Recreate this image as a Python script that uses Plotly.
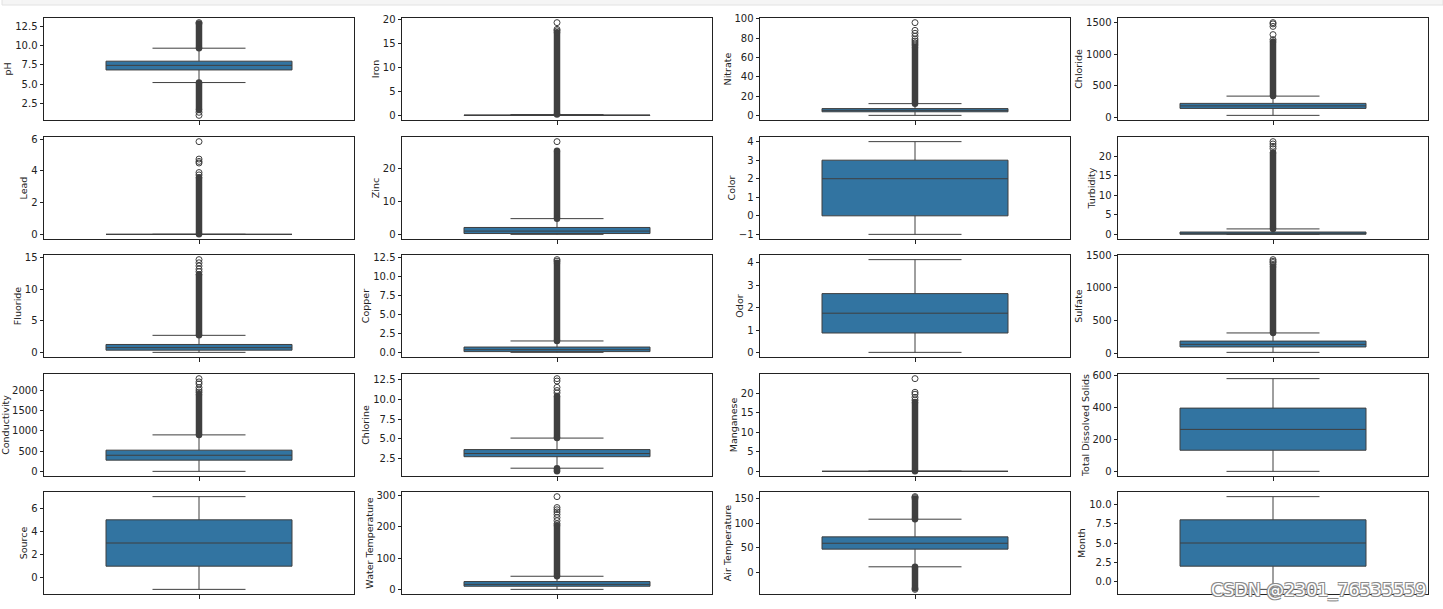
import plotly.graph_objects as go

features = ["pH", "Iron", "Nitrate", "Chloride",
            "Lead", "Zinc", "Color", "Turbidity",
            "Fluoride", "Copper", "Odor", "Sulfate",
            "Conductivity", "Chlorine", "Manganese", "Total Dissolved Solids",
            "Source", "Water Temperature", "Air Temperature", "Month"]

q1_vals = [6.85, 0.0, 4.0, 140, 0.0, 0.25, 0, 0.03, 0.35, 0.1, 0.88, 95,
           280, 2.75, 0.0, 132, 1, 10, 47, 2]
median_vals = [7.45, 0.01, 5.5, 180, 0.0, 1.0, 2, 0.2, 0.75, 0.35, 1.76, 135,
               400, 3.15, 0.0, 262, 3, 16, 59, 5]
q3_vals = [8.0, 0.07, 7.3, 220, 0.0, 2.1, 3, 0.6, 1.25, 0.7, 2.63, 185,
           525, 3.65, 0.02, 395, 5, 25, 72, 8]
whisker_low = [5.2, 0.0, 0.3, 30, 0.0, 0.0, -1, 0.0, 0.0, 0.0, 0.02, 12,
               5, 1.3, 0.0, 0, -1, 0, 11, -1]
whisker_high = [9.7, 0.17, 12.4, 335, 0.0, 4.8, 4, 1.4, 2.7, 1.5, 4.14, 310,
                900, 5.1, 0.05, 579, 7, 42, 108, 11]

# dense runs of outliers (low, high) per feature
dense_outliers = [
    [(9.7, 12.95), (1.6, 5.2)],
    [(0.17, 17.3)],
    [(12.4, 71.0)],
    [(335, 1200)],
    [(0.0, 3.6)],
    [(4.8, 25.5)],
    [],
    [(1.4, 21.0)],
    [(2.7, 12.4)],
    [(1.5, 11.8)],
    [],
    [(310, 1330)],
    [(900, 1900)],
    [(5.1, 10.4), (0.9, 1.3)],
    [(0.05, 17.8)],
    [],
    [],
    [(42, 205)],
    [(108, 150), (-33, 11)],
    [],
]
sparse_outliers = [
    [13.05, 1.3, 0.9],
    [17.6, 17.9, 19.3],
    [73, 75, 77, 79, 82, 85, 88, 96],
    [1230, 1310, 1440, 1480, 1500],
    [3.75, 3.9, 4.5, 4.6, 4.75, 5.85],
    [28.3],
    [],
    [22.0, 22.6, 23.2, 23.8],
    [12.8, 13.2, 13.7, 14.2, 14.7],
    [12.0, 12.2],
    [],
    [1360, 1390, 1410, 1435],
    [1950, 2000, 2060, 2150, 2200, 2280],
    [10.8, 11.1, 11.5, 12.3, 12.6],
    [18.3, 19.0, 19.8, 20.3, 23.8],
    [],
    [],
    [210, 220, 230, 240, 248, 255, 262, 297],
    [152, 154, -35],
    [],
]
tick_values = [
    [2.5, 5.0, 7.5, 10.0, 12.5], [0, 5, 10, 15, 20], [0, 20, 40, 60, 80, 100], [0, 500, 1000, 1500],
    [0, 2, 4, 6], [0, 10, 20], [-1, 0, 1, 2, 3, 4], [0, 5, 10, 15, 20],
    [0, 5, 10, 15], [0.0, 2.5, 5.0, 7.5, 10.0, 12.5], [0, 1, 2, 3, 4], [0, 500, 1000, 1500],
    [0, 500, 1000, 1500, 2000], [2.5, 5.0, 7.5, 10.0, 12.5], [0, 5, 10, 15, 20], [0, 200, 400, 600],
    [0, 2, 4, 6], [0, 100, 200, 300], [0, 50, 100, 150], [0.0, 2.5, 5.0, 7.5, 10.0],
]
tick_formats = [".1f", "d", "d", "d", "d", "d", "d", "d", "d", ".1f", "d", "d",
                "d", ".1f", "d", "d", "d", "d", "d", ".1f"]

W, H = 1443, 609
col_left = [44, 402, 760, 1118]
ax_w = 310
row_top = [18, 137, 255, 374, 492]
ax_h = 102

BOX_FILL = "#3274a1"
LINE = "#3f3f3f"

fig = go.Figure()
layout = dict(width=W, height=H, margin=dict(l=0, r=0, t=0, b=0, autoexpand=False),
              paper_bgcolor="white", plot_bgcolor="white", showlegend=False,
              font=dict(family="DejaVu Sans", size=10, color="#222"))

for i, name in enumerate(features):
    r, c = divmod(i, 4)
    n = i + 1
    xa = "x" if n == 1 else f"x{n}"
    ya = "y" if n == 1 else f"y{n}"
    xkey = "xaxis" if n == 1 else f"xaxis{n}"
    ykey = "yaxis" if n == 1 else f"yaxis{n}"

    fig.add_trace(go.Box(
        x=[0], q1=[q1_vals[i]], median=[median_vals[i]], q3=[q3_vals[i]],
        lowerfence=[whisker_low[i]], upperfence=[whisker_high[i]],
        width=0.6, whiskerwidth=0.5, fillcolor=BOX_FILL,
        line=dict(color=LINE, width=1), boxpoints=False,
        xaxis=xa, yaxis=ya, hoverinfo="skip"))

    for lo, hi in dense_outliers[i]:
        fig.add_trace(go.Scatter(
            x=[0, 0], y=[lo, hi], mode="lines+markers",
            line=dict(color=LINE, width=6.5),
            marker=dict(symbol="circle", size=6.5, color=LINE),
            xaxis=xa, yaxis=ya, hoverinfo="skip"))
    if sparse_outliers[i]:
        fig.add_trace(go.Scatter(
            x=[0] * len(sparse_outliers[i]), y=sparse_outliers[i], mode="markers",
            marker=dict(symbol="circle-open", size=6, color=LINE, line=dict(width=1)),
            xaxis=xa, yaxis=ya, hoverinfo="skip"))

    vals = [whisker_low[i], whisker_high[i]] + sparse_outliers[i] + \
        [v for pair in dense_outliers[i] for v in pair]
    dmin, dmax = min(vals), max(vals)
    pad = 0.05 * (dmax - dmin)

    x0 = col_left[c] / W
    x1 = (col_left[c] + ax_w) / W
    y1 = 1 - row_top[r] / H
    y0 = 1 - (row_top[r] + ax_h) / H

    layout[xkey] = dict(domain=[x0, x1], anchor=ya, range=[-0.5, 0.5],
                        showgrid=False, zeroline=False, showline=True, mirror=True,
                        linecolor="#222", linewidth=1, ticks="outside", ticklen=3.5,
                        tickcolor="#222", tickvals=[0], ticktext=[""], fixedrange=True)
    layout[ykey] = dict(domain=[y0, y1], anchor=xa, range=[dmin - pad, dmax + pad],
                        showgrid=False, zeroline=False, showline=True, mirror=True,
                        linecolor="#222", linewidth=1, ticks="outside", ticklen=3.5,
                        tickcolor="#222", tickvals=tick_values[i], tickformat=tick_formats[i],
                        tickfont=dict(size=10, color="#222"), automargin=True,
                        title=dict(text=name, standoff=1, font=dict(size=9.5, color="#222")),
                        fixedrange=True)

layout["shapes"] = [dict(type="rect", xref="paper", yref="paper",
                         x0=2 / W, x1=1, y0=1 - 5 / H, y1=1.01,
                         fillcolor="#f5f5f5", line=dict(color="#e2e2e2", width=1), layer="below")]
layout["annotations"] = [dict(text="CSDN @2301_76535559", xref="paper", yref="paper",
                              x=1428 / W, y=1 - 590 / H, xanchor="right", yanchor="middle",
                              showarrow=False,
                              font=dict(family="DejaVu Sans", size=17.5, color="white",
                                        shadow="1px 1px 0 #8a8a8a, -1px -1px 0 #8a8a8a, 1px -1px 0 #8a8a8a, -1px 1px 0 #8a8a8a"))]

fig.update_layout(**layout)
fig.write_html("out.html", config={"displayModeBar": False},
               post_script="document.body.style.margin='0';document.body.style.overflow='hidden';")
